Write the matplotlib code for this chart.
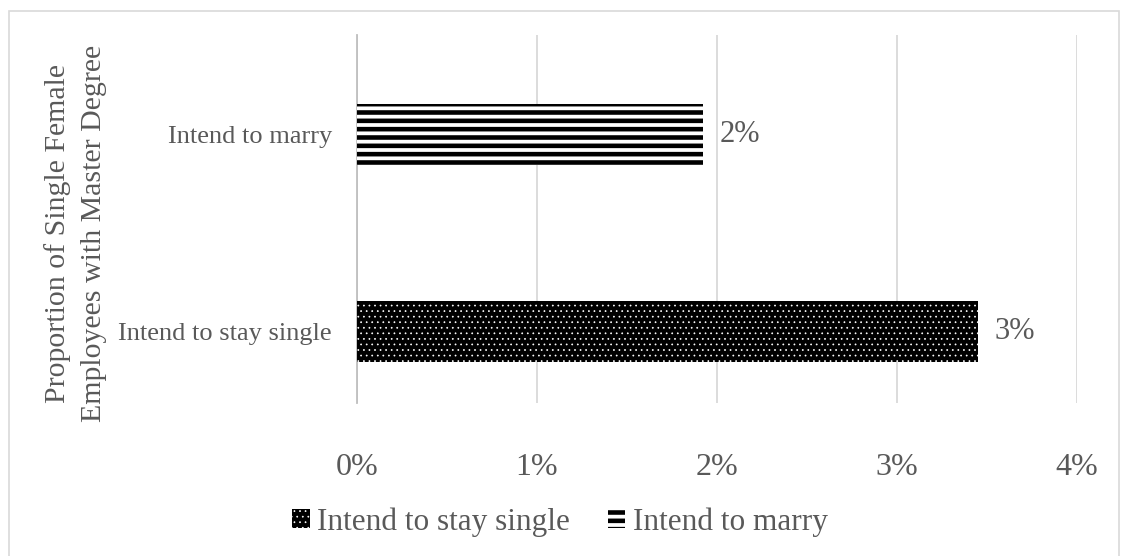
import matplotlib
matplotlib.use("Agg")
import matplotlib.pyplot as plt
from matplotlib.patches import Rectangle
from matplotlib.ticker import FuncFormatter

categories = ["Intend to stay single", "Intend to marry"]
values = [3.45, 1.92]          # percent
value_labels = ["3%", "2%"]
x_ticks = [0, 1, 2, 3, 4]
y_title = "Proportion of Single Female\nEmployees with Master Degree"

plt.rcParams['font.family'] = ['Liberation Serif', 'DejaVu Serif']
GRAY = "#595959"

fig = plt.figure(figsize=(11.22, 5.56), dpi=100)
W, H = 1122, 556
ax = fig.add_axes([357 / W, 1 - 403 / H, (1077 - 357) / W, (403 - 35) / H])

styles = [
    dict(facecolor="black", edgecolor="white", hatch="...", lw=0.5),
    dict(facecolor="white", edgecolor="black", hatch="--", lw=3.3),
]
bars = []
for i, (cat, val) in enumerate(zip(categories, values)):
    st = styles[i]
    with plt.rc_context({'hatch.linewidth': st['lw']}):
        b = ax.barh([i], [val], height=0.31, facecolor=st['facecolor'],
                    edgecolor=st['edgecolor'], hatch=st['hatch'], linewidth=0,
                    label=cat, zorder=3)
        for p in b:
            if hasattr(p, "set_hatch_linewidth"):
                p.set_hatch_linewidth(st['lw'])
    bars.append(b)
    ax.bar_label(b, labels=[value_labels[i]], padding=12, fontsize=22, color=GRAY)

ax.set_xlim(0, 4)
ax.set_ylim(-0.366, 1.506)
ax.set_xticks(x_ticks)
ax.xaxis.set_major_formatter(FuncFormatter(lambda v, p: f"{v:.0f}%"))
ax.set_yticks(range(len(categories)))
ax.set_yticklabels(categories)
ax.tick_params(axis='x', length=0, pad=36, labelsize=23, labelcolor=GRAY)
ax.tick_params(axis='y', length=0, pad=18, labelsize=19, labelcolor=GRAY)
ax.grid(axis='x', color="#d9d9d9", linewidth=1.3, zorder=0)
ax.set_axisbelow(True)
for s in ["top", "right", "bottom"]:
    ax.spines[s].set_visible(False)
ax.spines["left"].set_color("#bfbfbf")
ax.spines["left"].set_linewidth(1.3)

fig.text(76 / W, 1 - 233 / H, y_title, rotation=90, ha="center", va="center",
         fontsize=21.5, color=GRAY, linespacing=1.5)

handles = [bars[0], bars[1]]
with plt.rc_context({'hatch.linewidth': 3.3}):
    leg = fig.legend(handles, categories, loc="center", bbox_to_anchor=(560 / W, 1 - 522 / H),
                     ncol=2, frameon=False, fontsize=22.5, handlelength=0.55, handleheight=0.55,
                     handletextpad=0.25, columnspacing=1.2, labelcolor=GRAY)
for h, st in zip(leg.legend_handles, styles):
    if hasattr(h, "set_hatch_linewidth"):
        h.set_hatch_linewidth(st['lw'])

fig.add_artist(Rectangle((8.5 / W, -0.05), (1119 - 8.5) / W, 1.05 - 11 / H,
                         transform=fig.transFigure, fill=False, edgecolor="#d9d9d9",
                         linewidth=1.2, zorder=1))

fig.savefig("out.png", dpi=100)
